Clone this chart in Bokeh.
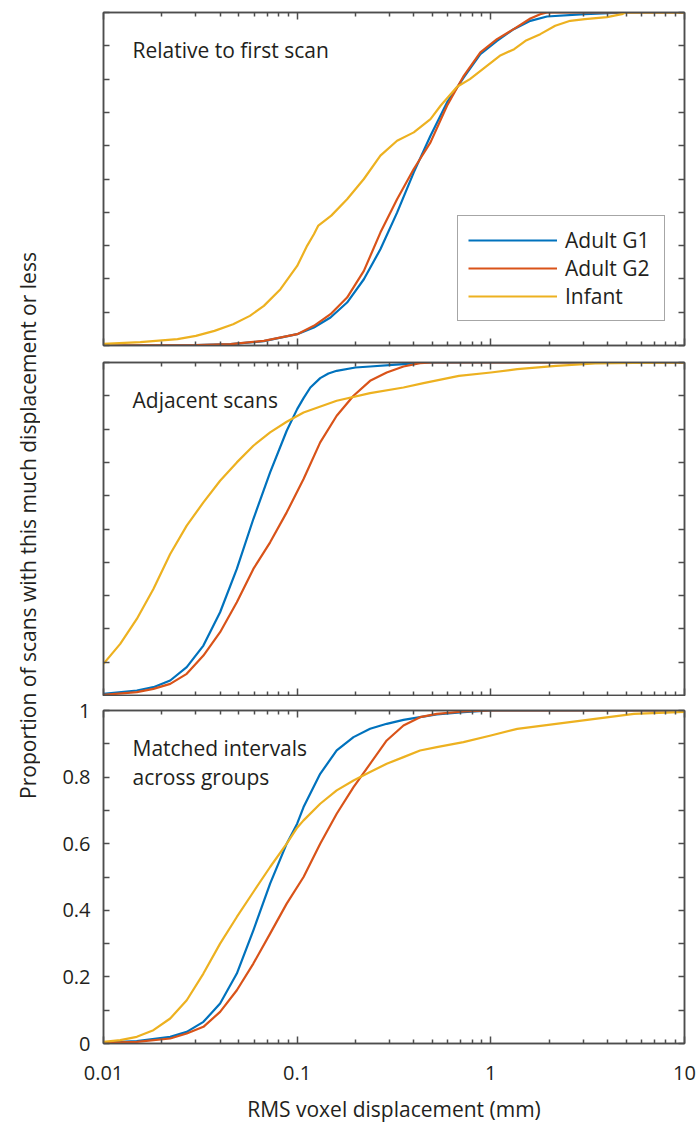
import math
from bokeh.plotting import figure
from bokeh.layouts import column, row
from bokeh.models import (Range1d, FixedTicker, LogAxis, LinearAxis, Label, Legend,
                          LegendItem, CustomJSTickFormatter)
from bokeh.embed import file_html
from bokeh.resources import INLINE

# ---------------- data ----------------
series_names = ["Adult G1", "Adult G2", "Infant"]
colors = ["#0072BD", "#D95319", "#EDB120"]
panel_titles = [["Relative to first scan"], ["Adjacent scans"], ["Matched intervals", "across groups"]]

# Panel 1: relative to first scan
p1_g1_x = [0.01, 0.03, 0.0453, 0.0673, 0.1, 0.122, 0.1486, 0.181, 0.221, 0.269, 0.328, 0.4, 0.488, 0.594, 0.725, 0.883, 1.076, 1.312, 1.6, 1.95, 3.06, 5.0, 10]
p1_g1_y = [0, 0.001, 0.004, 0.013, 0.034, 0.054, 0.084, 0.129, 0.199, 0.289, 0.399, 0.52, 0.63, 0.73, 0.805, 0.875, 0.915, 0.95, 0.975, 0.988, 0.995, 1.0, 1.0]
p1_g2_x = [0.01, 0.03, 0.0453, 0.0673, 0.1, 0.122, 0.1486, 0.181, 0.221, 0.269, 0.328, 0.4, 0.488, 0.594, 0.725, 0.883, 1.076, 1.312, 1.6, 1.8, 1.95, 10]
p1_g2_y = [0, 0.001, 0.004, 0.014, 0.034, 0.059, 0.094, 0.144, 0.224, 0.339, 0.439, 0.53, 0.61, 0.72, 0.81, 0.88, 0.92, 0.95, 0.982, 0.995, 1.0, 1.0]
p1_inf_x = [0.01, 0.0155, 0.0241, 0.03, 0.0374, 0.0467, 0.057, 0.0673, 0.082, 0.1, 0.1127, 0.122, 0.1286, 0.15, 0.181, 0.221, 0.269, 0.328, 0.4, 0.488, 0.55, 0.67, 0.78, 0.933, 1.112, 1.32, 1.51, 1.8, 2.15, 2.57, 3.06, 3.98, 4.75, 4.96, 10]
p1_inf_y = [0.005, 0.01, 0.019, 0.029, 0.044, 0.064, 0.089, 0.119, 0.169, 0.239, 0.3, 0.334, 0.36, 0.39, 0.439, 0.5, 0.57, 0.615, 0.64, 0.68, 0.72, 0.777, 0.8, 0.835, 0.87, 0.89, 0.915, 0.935, 0.96, 0.975, 0.98, 0.986, 0.995, 1.0, 1.0]

# Panel 2: adjacent scans
p2_g1_x = [0.01, 0.01486, 0.0181, 0.0221, 0.0269, 0.0328, 0.04, 0.0488, 0.0594, 0.0725, 0.0883, 0.1, 0.1079, 0.117, 0.1315, 0.145, 0.16, 0.2, 0.238, 0.354, 0.45, 10]
p2_g1_y = [0.005, 0.015, 0.025, 0.045, 0.085, 0.15, 0.25, 0.38, 0.53, 0.67, 0.795, 0.86, 0.893, 0.925, 0.953, 0.967, 0.975, 0.985, 0.988, 0.995, 1.0, 1.0]
p2_g2_x = [0.01, 0.01486, 0.0181, 0.0221, 0.0269, 0.0328, 0.04, 0.0488, 0.0594, 0.0725, 0.0883, 0.1079, 0.1315, 0.16, 0.1954, 0.238, 0.29, 0.354, 0.431, 0.5, 10]
p2_g2_y = [0.002, 0.01, 0.02, 0.035, 0.065, 0.12, 0.19, 0.28, 0.38, 0.46, 0.55, 0.65, 0.76, 0.84, 0.9, 0.945, 0.97, 0.988, 0.998, 1.0, 1.0]
p2_inf_x = [0.01, 0.0122, 0.01486, 0.0181, 0.0221, 0.0269, 0.0328, 0.04, 0.0488, 0.0594, 0.0725, 0.0883, 0.1079, 0.16, 0.238, 0.354, 0.449, 0.6845, 1.0, 1.369, 2.174, 3.453, 5.483, 10]
p2_inf_y = [0.095, 0.155, 0.23, 0.32, 0.425, 0.51, 0.58, 0.645, 0.7, 0.75, 0.79, 0.822, 0.85, 0.885, 0.908, 0.925, 0.938, 0.96, 0.97, 0.98, 0.99, 0.997, 0.999, 1.0]

# Panel 3: matched intervals across groups
p3_g1_x = [0.01, 0.01486, 0.0221, 0.0269, 0.0328, 0.04, 0.0488, 0.0594, 0.0725, 0.0883, 0.1, 0.1079, 0.1315, 0.16, 0.1954, 0.238, 0.29, 0.354, 0.431, 0.526, 0.722, 1.0, 10]
p3_g1_y = [0.003, 0.007, 0.02, 0.035, 0.065, 0.12, 0.21, 0.34, 0.48, 0.6, 0.66, 0.71, 0.81, 0.88, 0.92, 0.945, 0.96, 0.972, 0.98, 0.988, 0.995, 1.0, 1.0]
p3_g2_x = [0.01, 0.01486, 0.0221, 0.0269, 0.0328, 0.04, 0.0488, 0.0594, 0.0725, 0.0883, 0.1079, 0.1315, 0.16, 0.1954, 0.238, 0.29, 0.354, 0.431, 0.526, 0.722, 1.0, 10]
p3_g2_y = [0.002, 0.005, 0.015, 0.03, 0.05, 0.095, 0.16, 0.24, 0.33, 0.42, 0.5, 0.6, 0.69, 0.77, 0.84, 0.91, 0.955, 0.98, 0.99, 0.997, 1.0, 1.0]
p3_inf_x = [0.01, 0.0122, 0.01486, 0.0181, 0.0221, 0.0269, 0.0328, 0.04, 0.0488, 0.0594, 0.0725, 0.0883, 0.1, 0.1079, 0.1315, 0.16, 0.1954, 0.238, 0.29, 0.354, 0.431, 0.526, 0.722, 1.0, 1.369, 2.174, 3.453, 5.483, 10]
p3_inf_y = [0.005, 0.01, 0.02, 0.04, 0.075, 0.13, 0.21, 0.3, 0.38, 0.455, 0.53, 0.6, 0.648, 0.67, 0.72, 0.76, 0.79, 0.815, 0.84, 0.86, 0.88, 0.89, 0.905, 0.925, 0.945, 0.96, 0.975, 0.99, 0.996]

x_ticks = [0.01, 0.1, 1, 10]
x_tick_labels = ["0.01", "0.1", "1", "10"]
x_minor = [m * d for d in [0.01, 0.1, 1] for m in range(2, 10)]
y_ticks = [0, 0.2, 0.4, 0.6, 0.8, 1]
y_tick_labels = ["0", "0.2", "0.4", "0.6", "0.8", "1"]
y_minor = [0.1, 0.3, 0.5, 0.7, 0.9]

x_label = "RMS voxel displacement (mm)"
y_label = "Proportion of scans with this much displacement or less"

panels = [
    [(p1_g1_x, p1_g1_y), (p1_g2_x, p1_g2_y), (p1_inf_x, p1_inf_y)],
    [(p2_g1_x, p2_g1_y), (p2_g2_x, p2_g2_y), (p2_inf_x, p2_inf_y)],
    [(p3_g1_x, p3_g1_y), (p3_g2_x, p3_g2_y), (p3_inf_x, p3_inf_y)],
]

FONT = "Open Sans"
TXT = "#231f20"
FRAME = "#4d4d4d"
LABEL_W = 40


def style_axis(ax, labelled, horizontal):
    ax.ticker = FixedTicker(ticks=x_ticks, minor_ticks=x_minor) if horizontal else FixedTicker(ticks=y_ticks, minor_ticks=y_minor)
    ax.axis_line_color = FRAME
    ax.axis_line_width = 1.5
    ax.major_tick_line_color = FRAME
    ax.minor_tick_line_color = FRAME
    ax.major_tick_line_width = 1.5
    ax.minor_tick_line_width = 1.5
    ax.major_tick_out = 0
    ax.minor_tick_out = 0
    if horizontal:
        ax.major_tick_in = 7
        ax.minor_tick_in = 4
    else:
        ax.major_tick_in = 6
        ax.minor_tick_in = 6
    ax.major_label_text_font = FONT
    ax.major_label_text_color = TXT
    ax.axis_label_text_font = FONT
    ax.axis_label_text_color = TXT
    ax.axis_label_text_font_style = "normal"
    ax.axis_label_text_font_size = "21px"
    if labelled:
        ax.major_label_text_font_size = "20px"
        if horizontal:
            ax.major_label_overrides = dict(zip(x_ticks, x_tick_labels))
        else:
            ax.major_label_overrides = dict(zip(y_ticks, y_tick_labels))
    else:
        ax.formatter = CustomJSTickFormatter(code="return ''")
        ax.major_label_text_font_size = "1px"
        ax.major_label_standoff = 0


figs = []
tops = [12, 9, 14]
bottoms = [8, 1, 90]
for i, data in enumerate(panels):
    last = (i == 2)
    p = figure(x_axis_type="log", frame_width=581, frame_height=333,
               x_range=Range1d(0.01, 10), y_range=Range1d(0, 1),
               output_backend="svg", toolbar_location=None,
               min_border_left=103 - LABEL_W, min_border_right=15,
               min_border_top=tops[i], min_border_bottom=bottoms[i])
    p.grid.visible = False
    p.outline_line_color = FRAME
    p.outline_line_width = 1.5
    p.background_fill_color = "white"
    p.border_fill_color = "white"

    bottom_ax = p.xaxis[0]
    left_ax = p.yaxis[0]
    style_axis(bottom_ax, last, True)
    style_axis(left_ax, last, False)
    top_ax = LogAxis()
    right_ax = LinearAxis()
    style_axis(top_ax, False, True)
    style_axis(right_ax, False, False)
    p.add_layout(top_ax, "above")
    p.add_layout(right_ax, "right")

    if last:
        bottom_ax.axis_label = x_label
        bottom_ax.major_label_standoff = 22
        bottom_ax.axis_label_standoff = 12
        left_ax.major_label_standoff = 13

    renderers = []
    for (xs, ys), c in zip(data, colors):
        r = p.line(xs, ys, line_color=c, line_width=2.2, line_join="round")
        renderers.append(r)

    for k, t in enumerate(panel_titles[i]):
        p.add_layout(Label(x=0.01412, y=0.888 - k * 0.087, text=t, text_font=FONT,
                           text_font_size="21px", text_color=TXT, text_baseline="alphabetic"))

    if i == 0:
        leg = Legend(items=[LegendItem(label=n, renderers=[r]) for n, r in zip(series_names, renderers)],
                     location=(354, 24), glyph_width=89, glyph_height=24, label_standoff=8,
                     padding=10, spacing=0, margin=0, label_width=89, label_height=24,
                     label_text_font=FONT, label_text_font_size="21px", label_text_color=TXT,
                     border_line_color=FRAME, border_line_width=1.5, background_fill_alpha=1)
        p.add_layout(leg, "center")
    figs.append(p)

# narrow figure that carries the shared y-axis title
lab = figure(frame_width=LABEL_W, frame_height=1133, x_range=Range1d(0, LABEL_W), y_range=Range1d(0, 1133),
             x_axis_location=None, y_axis_location=None, output_backend="svg", toolbar_location=None,
             min_border=0, outline_line_color=None)
lab.grid.visible = False
lab.add_layout(Label(x=27, y=1133 - 525, text=y_label, angle=math.pi / 2, text_align="center",
                     text_baseline="middle", text_font=FONT, text_font_size="21px", text_color=TXT))

layout = row(lab, column(*figs, spacing=0), spacing=0)
open("out.html", "w").write(file_html(layout, INLINE))
